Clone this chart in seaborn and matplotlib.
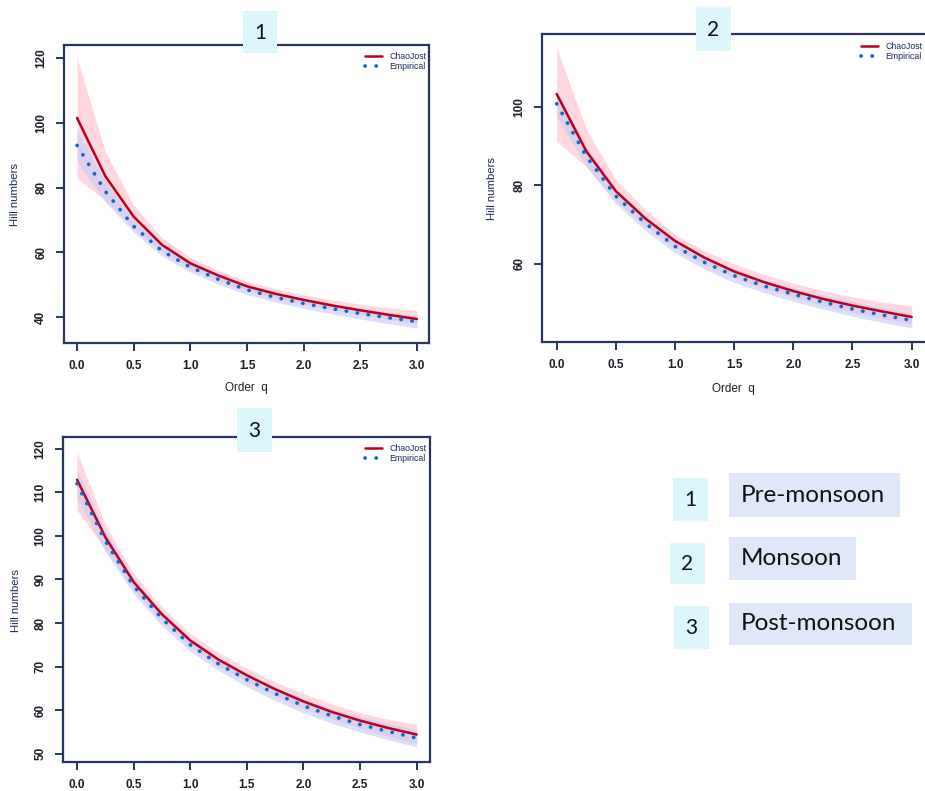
import numpy as np
import pandas as pd
import matplotlib
matplotlib.use("Agg")
import matplotlib.pyplot as plt
from matplotlib.patches import Rectangle
import seaborn as sns

# Order q grid
q = [0.0, 0.25, 0.5, 0.75, 1.0, 1.25, 1.5, 1.75, 2.0, 2.25, 2.5, 2.75, 3.0]

# Pre-monsoon (1)
chao_1 = [101.5, 83.5, 71.0, 62.3, 56.6, 52.8, 49.5, 47.2, 45.3, 43.6, 42.1, 40.7, 39.4]
chao_1_lo = [83.0, 76.0, 67.5, 60.2, 55.0, 51.3, 48.2, 45.9, 44.0, 42.3, 40.8, 39.3, 38.0]
chao_1_hi = [120.0, 91.0, 74.5, 64.5, 58.4, 54.4, 51.1, 48.8, 46.9, 45.3, 44.0, 42.8, 42.0]
emp_1 = [93.0, 78.8, 68.0, 60.4, 55.4, 51.6, 48.4, 46.1, 44.2, 42.6, 41.1, 39.8, 38.6]
emp_1_lo = [88.0, 75.5, 66.2, 58.8, 53.9, 50.1, 47.0, 44.7, 42.7, 41.0, 39.4, 38.0, 36.6]
emp_1_hi = [97.5, 82.0, 70.0, 62.0, 56.9, 53.1, 49.8, 47.5, 45.7, 44.2, 42.8, 41.6, 40.5]

# Monsoon (2)
chao_2 = [103.3, 88.7, 78.5, 71.5, 65.8, 61.5, 58.0, 55.3, 53.0, 51.0, 49.3, 47.8, 46.4]
chao_2_lo = [91.2, 84.8, 76.0, 69.6, 64.0, 59.8, 56.4, 53.7, 51.4, 49.4, 47.6, 46.0, 44.6]
chao_2_hi = [115.1, 94.3, 81.4, 73.8, 67.5, 63.3, 59.9, 57.3, 55.0, 53.1, 51.5, 50.2, 49.2]
emp_2 = [100.8, 87.4, 77.2, 70.3, 64.4, 60.3, 56.9, 54.3, 52.2, 50.2, 48.4, 46.9, 45.5]
emp_2_lo = [97.6, 84.8, 75.3, 68.5, 62.7, 58.6, 55.2, 52.6, 50.4, 48.4, 46.6, 45.0, 43.6]
emp_2_hi = [104.0, 90.0, 79.2, 72.1, 66.1, 62.0, 58.6, 56.0, 53.9, 52.0, 50.3, 48.8, 47.4]

# Post-monsoon (3)
chao_3 = [112.9, 99.7, 89.4, 82.0, 76.0, 71.6, 68.0, 64.8, 62.0, 59.6, 57.6, 55.9, 54.4]
chao_3_lo = [105.8, 97.0, 87.6, 80.5, 74.6, 70.2, 66.5, 63.3, 60.4, 58.0, 55.9, 54.0, 52.3]
chao_3_hi = [119.2, 102.6, 91.4, 83.7, 77.6, 73.2, 69.6, 66.5, 63.8, 61.4, 59.4, 57.9, 56.7]
emp_3 = [112.0, 98.8, 88.5, 81.0, 75.0, 70.6, 67.0, 63.8, 61.0, 58.7, 56.7, 55.1, 53.6]
emp_3_lo = [108.6, 96.4, 86.7, 79.4, 73.5, 69.1, 65.4, 62.2, 59.4, 57.0, 55.0, 53.2, 51.6]
emp_3_hi = [115.2, 101.3, 90.3, 82.6, 76.5, 72.1, 68.5, 65.4, 62.6, 60.4, 58.5, 56.9, 55.5]

x_ticks = [0.0, 0.5, 1.0, 1.5, 2.0, 2.5, 3.0]
y_ticks_1 = [40, 60, 80, 100, 120]
y_ticks_2 = [60, 80, 100]
y_ticks_3 = [50, 60, 70, 80, 90, 100, 110, 120]

panel_ids = ["1", "2", "3"]
season_names = ["Pre-monsoon", "Monsoon", "Post-monsoon"]
series_names = ["ChaoJost", "Empirical"]

sns.set_style("white")
plt.rcParams["font.family"] = ["Liberation Sans", "DejaVu Sans"]

W, H = 925, 791
fig = plt.figure(figsize=(W / 100, H / 100), dpi=100)

NAVY = "#27365f"
RED = "#b8001f"
BLUE = "#1565c8"
PINK = "#ffc2cf"
LAV = "#c3cbf5"


def frac(x0, y0, x1, y1):
    return [x0 / W, 1 - y1 / H, (x1 - x0) / W, (y1 - y0) / H]


def fig_pt(x, y):
    return (x / W, 1 - y / H)


panels = [
    dict(box=(64, 45, 429, 343), xlim=(-0.115, 3.106), ylim=(32.0, 124.0),
         yticks=y_ticks_1, chao=(chao_1, chao_1_lo, chao_1_hi), emp=(emp_1, emp_1_lo, emp_1_hi),
         ylab=(15, 195), xlab=(246, 388), leg=(426, 52)),
    dict(box=(542, 34, 930, 342), xlim=(-0.124, 3.155), ylim=(40.0, 118.6),
         yticks=y_ticks_2, chao=(chao_2, chao_2_lo, chao_2_hi), emp=(emp_2, emp_2_lo, emp_2_hi),
         ylab=(492, 189), xlab=(733, 389), leg=(922, 42)),
    dict(box=(63, 437, 430, 762), xlim=(-0.124, 3.118), ylim=(48.1, 122.7),
         yticks=y_ticks_3, chao=(chao_3, chao_3_lo, chao_3_hi), emp=(emp_3, emp_3_lo, emp_3_hi),
         ylab=(16, 600), xlab=None, leg=(426, 444)),
]

for p in panels:
    ax = fig.add_axes(frac(*p["box"]))
    c_est, c_lo, c_hi = p["chao"]
    e_est, e_lo, e_hi = p["emp"]
    df = pd.DataFrame({"q": q, "ChaoJost": c_est, "Empirical": e_est})

    ax.fill_between(q, c_lo, c_hi, color=PINK, alpha=0.65, lw=0, zorder=1)
    ax.fill_between(q, e_lo, e_hi, color=LAV, alpha=0.6, lw=0, zorder=2)
    sns.lineplot(data=df, x="q", y="ChaoJost", ax=ax, color=RED, lw=1.8,
                 label=series_names[0], zorder=4)
    sns.lineplot(data=df, x="q", y="Empirical", ax=ax, color=BLUE, lw=2.7,
                 linestyle=(0, (0.05, 2.9)), dash_capstyle="round",
                 label=series_names[1], zorder=5)

    ax.set_xlim(*p["xlim"])
    ax.set_ylim(*p["ylim"])
    ax.set_xticks(x_ticks)
    ax.set_xticklabels([f"{v:.1f}" for v in x_ticks])
    ax.set_yticks(p["yticks"])
    ax.set_yticklabels([str(v) for v in p["yticks"]], rotation=90, va="center")
    ax.tick_params(axis="both", direction="out", length=6, width=1.4, color=NAVY,
                   labelsize=8.5, labelcolor="#1e1e2a", pad=6, left=True, bottom=True)
    for lab in ax.get_xticklabels() + ax.get_yticklabels():
        lab.set_fontweight("bold")
    for s in ax.spines.values():
        s.set_visible(True)
        s.set_color(NAVY)
        s.set_linewidth(1.6)

    ax.set_ylabel("Hill numbers", fontsize=8.2, color="#1d2a5a", va="center")
    ax.yaxis.set_label_coords(*fig_pt(*p["ylab"]), transform=fig.transFigure)
    if p["xlab"] is not None:
        ax.set_xlabel("Order  q", fontsize=8.5, color="#1e1e2a", va="center")
        ax.xaxis.set_label_coords(*fig_pt(*p["xlab"]), transform=fig.transFigure)
    else:
        ax.set_xlabel("")

    ax.legend(loc="upper right", bbox_to_anchor=fig_pt(*p["leg"]),
              bbox_transform=fig.transFigure, frameon=False, fontsize=6.3,
              borderpad=0, borderaxespad=0, labelspacing=0.15, handlelength=2.0,
              handletextpad=0.8, labelcolor="#1d2a5a")

# Overlay for panel tags and the season key
ov = fig.add_axes([0, 0, 1, 1], zorder=20)
ov.set_xlim(0, W)
ov.set_ylim(H, 0)
ov.axis("off")
ov.patch.set_alpha(0)

CYAN = "#dbf7fb"
KEYBLUE = "#dfe8f8"
tag_boxes = [(243, 11, 277, 53), (696, 7, 731, 51), (237, 408, 272, 452)]
for (x0, y0, x1, y1), t in zip(tag_boxes, panel_ids):
    ov.add_patch(Rectangle((x0, y0), x1 - x0, y1 - y0, color=CYAN, lw=0))
    ov.text((x0 + x1) / 2, (y0 + y1) / 2 + 1, t, fontsize=15, ha="center", va="center",
            family=["Lato", "DejaVu Sans"], color="#111111")

num_boxes = [(673, 478, 708, 521), (670, 543, 705, 584), (674, 606, 709, 649)]
name_boxes = [(729, 473, 900, 517), (729, 537, 856, 580), (729, 603, 912, 645)]
for (x0, y0, x1, y1), t in zip(num_boxes, panel_ids):
    ov.add_patch(Rectangle((x0, y0), x1 - x0, y1 - y0, color=CYAN, lw=0))
    ov.text((x0 + x1) / 2, (y0 + y1) / 2 + 1, t, fontsize=15, ha="center", va="center",
            family=["Lato", "DejaVu Sans"], color="#111111")
for (x0, y0, x1, y1), t in zip(name_boxes, season_names):
    ov.add_patch(Rectangle((x0, y0), x1 - x0, y1 - y0, color=KEYBLUE, lw=0))
    ov.text(x0 + 12, (y0 + y1) / 2, t, fontsize=17.5, ha="left", va="center",
            family=["Lato", "DejaVu Sans"], color="#111111")

fig.savefig("out.png", dpi=100)
